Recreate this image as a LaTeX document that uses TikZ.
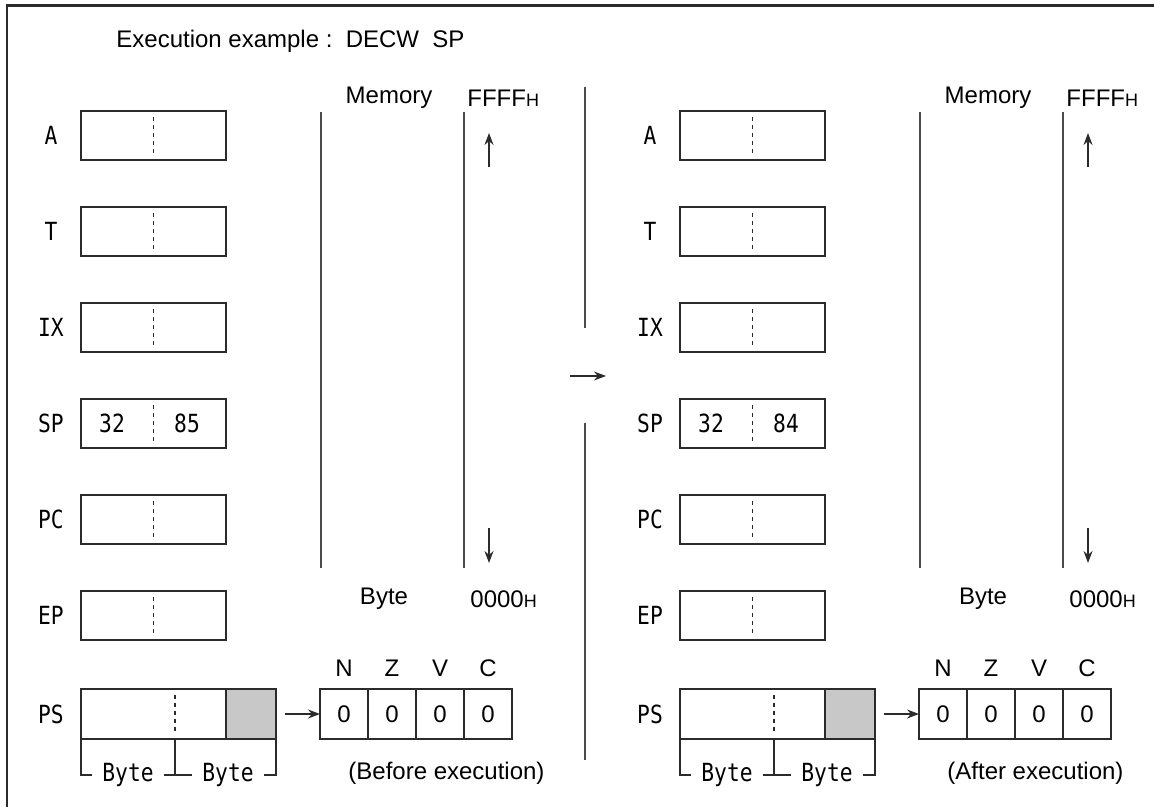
\documentclass[tikz,border=0pt]{standalone}
\usepackage{fontspec}
\setmainfont{Liberation Sans}
\newfontfamily\gothic{DejaVu Sans Mono}[FakeStretch=0.85]
\usepackage{tikz}
\usetikzlibrary{positioning,arrows.meta}
\definecolor{ink}{HTML}{2B2B2B}
\definecolor{ccrfill}{HTML}{C8C8C8}
\newcommand\hsuf{{\fontsize{9}{9}\selectfont H}}
\tikzset{
  reg/.style={rectangle,draw=ink,line width=0.7pt,minimum width=72.5pt,
    minimum height=24.5pt,inner sep=0pt,outer sep=0pt,
    path picture={\draw[ink,line width=0.6pt,dash pattern=on 2pt off 2pt]
      ([yshift=-3pt]path picture bounding box.north) --
      ([yshift=3pt]path picture bounding box.south);}},
  psbox/.style={rectangle,draw=ink,line width=0.7pt,minimum width=97.5pt,
    minimum height=25pt,inner sep=0pt,outer sep=0pt},
  cell/.style={rectangle,draw=ink,line width=0.7pt,minimum width=24pt,
    minimum height=25pt,inner sep=0pt,outer sep=0pt,font=\fontsize{12}{12}\selectfont},
  lab/.style={font=\gothic\fontsize{12.5}{12.5}\selectfont,inner sep=0pt},
  txt/.style={font=\fontsize{12}{12}\selectfont,inner sep=0pt},
  flab/.style={txt,label distance=6pt},
  mem/.style={draw=ink!85,line width=0.8pt},
  fl/.style={-{Stealth[length=6pt,width=4.5pt]},draw=ink,line width=0.6pt},
}

\begin{document}
\begin{tikzpicture}[x=0.5pt,y=-0.5pt]
  \useasboundingbox (0,0) rectangle (1154,807);
  \draw[ink,line width=1.25pt] (7,807) -- (7,5.5) -- (1154,5.5);
  \node[txt,anchor=west] (title) at (116,41) {Execution example :\ \ DECW\ \ SP};
  \foreach \s/\dx/\lo/\note in {1/0/85/Before,2/599/84/After}{
  \begin{scope}[xshift=\dx*0.5pt]
    % registers
    \node[reg] (A\s) at (153.5,135.5) {};
    \node[reg] (T\s) at (153.5,231.5) {};
    \node[reg] (IX\s) at (153.5,327.5) {};
    \node[reg] (SP\s) at (153.5,423.5) {};
    \node[reg] (PC\s) at (153.5,519.5) {};
    \node[reg] (EP\s) at (153.5,615.5) {};
    \node[lab] (lA\s) at (51,135.5) {A};
    \node[lab] (lT\s) at (51,231.5) {T};
    \node[lab] (lIX\s) at (51,327.5) {IX};
    \node[lab] (lSP\s) at (51,423.5) {SP};
    \node[lab] (lPC\s) at (51,519.5) {PC};
    \node[lab] (lEP\s) at (51,615.5) {EP};
    \node[lab] (lPS\s) at (51,714) {PS};
    \node[lab] (hi\s) at (112,423.5) {32};
    \node[lab] (lo\s) at (187,423.5) {\lo};
    % PS and the CCR flags
    \node[psbox] (PS\s) at (178.5,714) {};
    \draw[ink,line width=0.7pt,fill=ccrfill] (226,689) rectangle (PS\s.south east);
    \draw[ink,line width=0.6pt,dash pattern=on 2pt off 2pt] (175,695) -- (175,733);
    \draw[ink,line width=0.6pt] (PS\s.south west) -- ++(0,-18pt) -| (PS\s.south east);
    \draw[ink,line width=0.6pt] (175,739) -- (175,775);
    \node[lab,fill=white,inner xsep=5pt,inner ysep=2pt] (bh\s) at (128,775) {Byte};
    \node[lab,fill=white,inner xsep=5pt,inner ysep=2pt] (bl\s) at (228,775) {Byte};
    \node[cell,label={[flab]above:N}] (N\s) at (344,714) {0};
    \node[cell,label={[flab]above:Z},right=0pt of N\s] (Z\s) {0};
    \node[cell,label={[flab]above:V},right=0pt of Z\s] (V\s) {0};
    \node[cell,label={[flab]above:C},right=0pt of V\s] (C\s) {0};
    \draw[fl,shorten <=4.5pt] (PS\s) -- (N\s);
    \node[txt,anchor=west] (note\s) at (348,773) {(\note\ execution)};
    % memory
    \coordinate (ma\s) at (321,112); \coordinate (mb\s) at (321,568);
    \coordinate (mc\s) at (464,112); \coordinate (md\s) at (464,568);
    \draw[mem] (ma\s) -- (mb\s); \draw[mem] (mc\s) -- (md\s);
    \node[txt] (mem\s) at (389,98) {Memory};
    \node[txt,anchor=west] (top\s) at (467,98) {FFFF\hsuf};
    \node[txt] (byte\s) at (384,599) {Byte};
    \node[txt,anchor=west] (bot\s) at (470,599) {0000\hsuf};
    \coordinate (ua\s) at (489,167); \coordinate (ub\s) at (489,133);
    \coordinate (da\s) at (489,528); \coordinate (db\s) at (489,563);
    \draw[fl] (ua\s) -- (ub\s); \draw[fl] (da\s) -- (db\s);
  \end{scope}
  }
  % divider between before and after
  \coordinate (dv1) at (585,87); \coordinate (dv2) at (585,328);
  \coordinate (dv3) at (585,423); \coordinate (dv4) at (585,760);
  \draw[mem] (dv1) -- (dv2); \draw[mem] (dv3) -- (dv4);
  \coordinate (go1) at (570,376); \coordinate (go2) at (606,376);
  \draw[fl] (go1) -- (go2);
\end{tikzpicture}
\end{document}
